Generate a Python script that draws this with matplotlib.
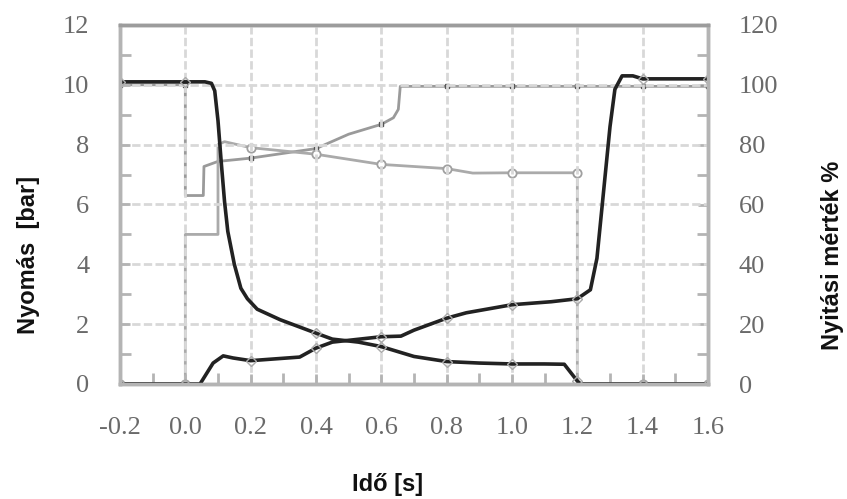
import numpy as np
import matplotlib
matplotlib.use('Agg')
import matplotlib.pyplot as plt
from matplotlib.ticker import MultipleLocator, FormatStrFormatter

# pressure, closing side (left axis, bar)
t_p1 = [-0.2, 0.0, 0.06, 0.08, 0.09, 0.1, 0.11, 0.12, 0.13, 0.15, 0.17, 0.19, 0.22,
        0.29, 0.4, 0.45, 0.53, 0.6, 0.7, 0.8, 0.9, 1.0, 1.1, 1.16, 1.2, 1.21, 1.4, 1.6]
p1 = [10.1, 10.1, 10.1, 10.05, 9.8, 8.8, 7.4, 6.1, 5.1, 4.0, 3.2, 2.85, 2.5,
      2.15, 1.7, 1.5, 1.4, 1.25, 0.92, 0.75, 0.7, 0.67, 0.67, 0.66, 0.1, 0.0, 0.0, 0.0]

# pressure, opening side (left axis, bar)
t_p2 = [-0.2, 0.0, 0.045, 0.085, 0.116, 0.146, 0.2, 0.35, 0.4, 0.45, 0.6, 0.66, 0.7,
        0.8, 0.86, 1.0, 1.12, 1.2, 1.24, 1.26, 1.28, 1.3, 1.315, 1.337, 1.37, 1.4, 1.6]
p2 = [0.0, 0.0, 0.0, 0.7, 0.94, 0.87, 0.78, 0.9, 1.2, 1.4, 1.58, 1.6, 1.8,
      2.2, 2.38, 2.65, 2.75, 2.85, 3.15, 4.2, 6.4, 8.6, 9.85, 10.3, 10.3, 10.2, 10.2]

# valve opening (right axis, %)
t_v1 = [-0.2, 0.0, 0.0, 0.055, 0.057, 0.1, 0.2, 0.4, 0.5, 0.6, 0.637, 0.652, 0.658,
        0.8, 1.0, 1.2, 1.4, 1.6]
v1 = [100, 100, 63, 63, 72.7, 74.4, 75.5, 78.7, 83.5, 86.8, 89, 91.8, 99.5,
      99.5, 99.5, 99.5, 99.5, 99.5]

t_v2 = [-0.2, 0.0, 0.0, 0.1, 0.1, 0.12, 0.2, 0.4, 0.6, 0.8, 0.88, 1.0, 1.2, 1.2, 1.4, 1.6]
v2 = [0, 0, 50, 50, 80, 81, 79, 76.8, 73.4, 72, 70.5, 70.6, 70.6, 0, 0, 0]

x_ticks = [-0.2, 0.0, 0.2, 0.4, 0.6, 0.8, 1.0, 1.2, 1.4, 1.6]


def on_grid(t):
    # mark the first point at each 0.2 s step
    t = np.asarray(t)
    mask = np.isclose(np.round(t / 0.2) * 0.2, t, atol=1e-6)
    mask[1:] &= ~np.isclose(t[1:], t[:-1])
    return list(mask)


fig = plt.figure(figsize=(8.47, 4.99), dpi=100)
ax = fig.add_axes([120 / 847, 1 - 384 / 499, 588 / 847, 359 / 499])
ax2 = ax.twinx()
ax.set_zorder(ax2.get_zorder() + 1)
ax.patch.set_visible(False)

tick_font = dict(family='Liberation Serif', size=19, color='#6a6a6a')
spine_c = '#b4b4b4'

ax2.plot(t_v1, v1, color='#9a9a9a', lw=2, marker='s', ms=3.5, mfc='#555555',
         mec='#555555', markevery=on_grid(t_v1))
ax2.plot(t_v2, v2, color='#aaaaaa', lw=2, marker='o', ms=6, mfc='white',
         mec='#a0a0a0', mew=1.3, markevery=on_grid(t_v2))

ax.plot(t_p1, p1, color='#222222', lw=2.6, marker='D', ms=5, mfc='none',
        mec='#aaaaaa', markevery=on_grid(t_p1))
ax.plot(t_p2, p2, color='#222222', lw=2.6, marker='D', ms=5, mfc='none',
        mec='#aaaaaa', markevery=on_grid(t_p2))

ax.set_xlim(-0.2, 1.6)
ax.set_ylim(0, 12)
ax2.set_ylim(0, 120)
ax.set_xticks(x_ticks)
ax.xaxis.set_major_formatter(FormatStrFormatter('%.1f'))
ax.xaxis.set_minor_locator(MultipleLocator(0.1))
ax.yaxis.set_major_locator(MultipleLocator(2))
ax.yaxis.set_minor_locator(MultipleLocator(1))
ax2.yaxis.set_major_locator(MultipleLocator(20))
ax2.yaxis.set_minor_locator(MultipleLocator(10))

ax.grid(True, which='major', color='#d8d8d8', lw=2, linestyle=(0, (3, 1.2)))
ax.set_axisbelow(True)

for a in (ax, ax2):
    a.tick_params(which='both', direction='in', color=spine_c, width=2)
    a.tick_params(which='major', length=7)
    a.tick_params(which='minor', length=8)
    for s in a.spines.values():
        s.set_color(spine_c)
        s.set_linewidth(2.5)
    a.spines['top'].set_color('#9c9c9c')
ax.tick_params(axis='x', which='both', top=False, pad=24)
ax.tick_params(axis='y', which='both', right=False, pad=22)
ax2.tick_params(axis='y', which='both', pad=22)

for lab in ax.get_xticklabels() + ax.get_yticklabels() + ax2.get_yticklabels():
    lab.set_fontfamily(tick_font['family'])
    lab.set_fontsize(tick_font['size'])
    lab.set_color(tick_font['color'])

label_font = dict(family='Liberation Sans', size=17, weight='bold', color='#111111')
fig.text(28 / 847, 1 - 255 / 499, 'Nyomás  [bar]', rotation=90, ha='center', va='center', **label_font)
fig.text(832 / 847, 1 - 255 / 499, 'Nyitási mérték %', rotation=90, ha='center', va='center', **label_font)
fig.text(388 / 847, 1 - 484 / 499, 'Idő [s]', ha='center', va='center', **label_font)

fig.savefig('out.png', dpi=100)
